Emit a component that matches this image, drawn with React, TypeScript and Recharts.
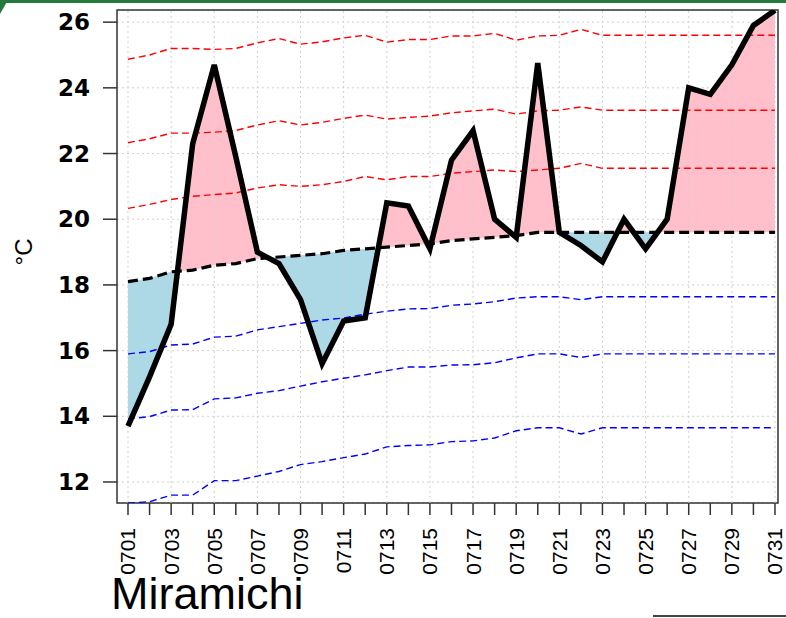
import React from 'react';
import {
  ComposedChart,
  Line,
  Area,
  XAxis,
  YAxis,
  CartesianGrid,
  ReferenceLine,
  ReferenceArea,
} from 'recharts';

const dayLabels = [
  '0701', '0702', '0703', '0704', '0705', '0706', '0707', '0708', '0709', '0710',
  '0711', '0712', '0713', '0714', '0715', '0716', '0717', '0718', '0719', '0720',
  '0721', '0722', '0723', '0724', '0725', '0726', '0727', '0728', '0729', '0730', '0731',
];

// daily observed temperature
const observed = [
  13.7, 15.2, 16.8, 22.3, 24.7, 21.9, 19.0, 18.65, 17.55, 15.6,
  16.9, 17.0, 20.5, 20.4, 19.1, 21.8, 22.7, 20.0, 19.45, 24.75,
  19.6, 19.2, 18.7, 20.0, 19.1, 20.0, 24.0, 23.8, 24.7, 25.9, 26.36,
];

// climatology mean
const climMean = [
  18.1, 18.2, 18.4, 18.45, 18.6, 18.65, 18.8, 18.85, 18.9, 18.95,
  19.05, 19.1, 19.15, 19.2, 19.25, 19.35, 19.4, 19.45, 19.5, 19.6,
  19.6, 19.6, 19.6, 19.6, 19.6, 19.6, 19.6, 19.6, 19.6, 19.6, 19.6,
];

const plus1 = [
  20.33, 20.45, 20.6, 20.7, 20.75, 20.8, 20.95, 21.05, 21.0, 21.05,
  21.15, 21.3, 21.2, 21.3, 21.3, 21.4, 21.45, 21.5, 21.45, 21.5,
  21.55, 21.7, 21.55, 21.55, 21.55, 21.55, 21.55, 21.55, 21.55, 21.55, 21.55,
];
const plus2 = [
  22.33, 22.45, 22.62, 22.62, 22.65, 22.7, 22.87, 23.0, 22.87, 22.95,
  23.07, 23.17, 23.05, 23.1, 23.14, 23.24, 23.3, 23.35, 23.2, 23.3,
  23.32, 23.42, 23.32, 23.32, 23.32, 23.32, 23.32, 23.32, 23.32, 23.32, 23.32,
];
const plus3 = [
  24.87, 25.0, 25.2, 25.2, 25.17, 25.2, 25.37, 25.5, 25.33, 25.4,
  25.52, 25.6, 25.39, 25.47, 25.47, 25.58, 25.58, 25.66, 25.45, 25.58,
  25.6, 25.78, 25.6, 25.6, 25.6, 25.6, 25.6, 25.6, 25.6, 25.6, 25.6,
];
const minus1 = [
  15.9, 15.97, 16.17, 16.2, 16.41, 16.44, 16.63, 16.73, 16.83, 16.93,
  16.99, 17.11, 17.2, 17.27, 17.28, 17.38, 17.42, 17.49, 17.6, 17.64,
  17.64, 17.55, 17.64, 17.64, 17.64, 17.64, 17.64, 17.64, 17.64, 17.64, 17.64,
];
const minus2 = [
  13.92, 13.99, 14.19, 14.2, 14.53, 14.56, 14.7, 14.78, 14.92, 15.05,
  15.16, 15.26, 15.39, 15.5, 15.5, 15.56, 15.57, 15.63, 15.78, 15.9,
  15.9, 15.79, 15.9, 15.9, 15.9, 15.9, 15.9, 15.9, 15.9, 15.9, 15.9,
];
const minus3 = [
  11.36, 11.4, 11.6, 11.6, 12.04, 12.04, 12.18, 12.32, 12.53, 12.62,
  12.74, 12.85, 13.07, 13.11, 13.13, 13.23, 13.25, 13.34, 13.56, 13.65,
  13.65, 13.46, 13.65, 13.65, 13.65, 13.65, 13.65, 13.65, 13.65, 13.65, 13.65,
];

const yTicks = [12, 14, 16, 18, 20, 22, 24, 26];
const X_MIN = 0.49;
const X_MAX = 31.14;
const Y_MIN = 11.36;
const Y_MAX = 26.37;

// rows for the chart; where observed crosses the mean an extra row is added
// so the pink / blue fills switch exactly at the crossing
const rows: any[] = [];
for (let i = 0; i < dayLabels.length; i++) {
  const o = observed[i];
  const m = climMean[i];
  rows.push({
    x: i + 1,
    obs: o,
    mean: m,
    p1: plus1[i],
    p2: plus2[i],
    p3: plus3[i],
    m1: minus1[i],
    m2: minus2[i],
    m3: minus3[i],
    warm: [m, Math.max(o, m)],
    cold: [Math.min(o, m), m],
  });
  if (i < dayLabels.length - 1) {
    const d0 = o - m;
    const d1 = observed[i + 1] - climMean[i + 1];
    if (d0 * d1 < 0) {
      const t = d0 / (d0 - d1);
      const v = o + t * (observed[i + 1] - o);
      rows.push({ x: i + 1 + t, obs: v, mean: v, warm: [v, v], cold: [v, v] });
    }
  }
}

const oddDays = dayLabels.map((_, i) => i + 1).filter((d) => d % 2 === 1);
const allDays = dayLabels.map((_, i) => i + 1);

function DayTick(props: any) {
  const { x, y, payload } = props;
  const d = payload.value;
  if (d % 2 === 0) return <g />;
  return (
    <text
      transform={`translate(${x + 7.5},${y + 11}) rotate(-90)`}
      textAnchor="end"
      fontFamily="'Liberation Sans', Arial, sans-serif"
      fontSize={21}
      fill="#000"
    >
      {dayLabels[d - 1]}
    </text>
  );
}

function TempTick(props: any) {
  const { x, y, payload } = props;
  return (
    <text
      x={x - 11}
      y={y + 8}
      textAnchor="end"
      fontFamily="'DejaVu Sans', sans-serif"
      fontWeight="bold"
      fontSize={23}
      fill="#000"
    >
      {payload.value}
    </text>
  );
}

const sigmaLine = (key: string, color: string) => (
  <Line
    key={key}
    type="linear"
    dataKey={key}
    stroke={color}
    strokeWidth={1.4}
    strokeDasharray="7 4"
    dot={false}
    connectNulls
    isAnimationActive={false}
  />
);

export default function App() {
  return (
    <div
      style={{
        position: 'absolute',
        left: 0,
        top: 0,
        width: 786,
        height: 618,
        background: '#fff',
        overflow: 'hidden',
      }}
    >
      <div style={{ position: 'absolute', left: 0, top: 0, width: 786, height: 3, background: '#237a3c' }} />
      <div
        style={{
          position: 'absolute',
          left: 0,
          top: 0,
          width: 8,
          height: 14,
          background: '#237a3c',
          clipPath: 'polygon(0 0, 100% 0, 0 100%)',
        }}
      />
      <ComposedChart
        width={786}
        height={618}
        data={rows}
        margin={{ top: 10, right: 8, bottom: 0, left: 0 }}
      >
        <CartesianGrid vertical={false} stroke="#d0d0d0" strokeDasharray="2 3" />
        <XAxis
          dataKey="x"
          type="number"
          domain={[X_MIN, X_MAX]}
          ticks={allDays}
          interval={0}
          allowDataOverflow
          height={115}
          tickSize={12}
          tickLine={{ stroke: '#333', strokeWidth: 1.5 }}
          axisLine={false}
          tick={<DayTick />}
        />
        <YAxis
          type="number"
          domain={[Y_MIN, Y_MAX]}
          ticks={yTicks}
          allowDataOverflow
          width={117}
          tickSize={14}
          tickLine={{ stroke: '#333', strokeWidth: 1.5 }}
          axisLine={false}
          tick={<TempTick />}
        />
        {oddDays.map((d) => (
          <ReferenceLine key={'g' + d} x={d} stroke="#d0d0d0" strokeDasharray="2 3" />
        ))}
        <Area
          type="linear"
          dataKey="warm"
          fill="#ffc0cb"
          fillOpacity={1}
          stroke="none"
          isAnimationActive={false}
        />
        <Area
          type="linear"
          dataKey="cold"
          fill="#add8e6"
          fillOpacity={1}
          stroke="none"
          isAnimationActive={false}
        />
        {sigmaLine('p3', '#ff0000')}
        {sigmaLine('p2', '#ff0000')}
        {sigmaLine('p1', '#ff0000')}
        {sigmaLine('m1', '#0000ff')}
        {sigmaLine('m2', '#0000ff')}
        {sigmaLine('m3', '#0000ff')}
        <Line
          type="linear"
          dataKey="mean"
          stroke="#000"
          strokeWidth={3.2}
          strokeDasharray="10 5"
          dot={false}
          isAnimationActive={false}
        />
        <Line
          type="linear"
          dataKey="obs"
          stroke="#000"
          strokeWidth={5.5}
          strokeLinejoin="miter"
          dot={false}
          isAnimationActive={false}
        />
        <ReferenceArea
          x1={X_MIN}
          x2={X_MAX}
          y1={Y_MIN}
          y2={Y_MAX}
          fill="none"
          fillOpacity={0}
          stroke="#333"
          strokeWidth={1.5}
          ifOverflow="visible"
        />
      </ComposedChart>
      <div
        style={{
          position: 'absolute',
          left: 24,
          top: 252,
          transform: 'translate(-50%, -50%) rotate(-90deg)',
          fontFamily: "'Liberation Sans', Arial, sans-serif",
          fontSize: 24,
          color: '#000',
          whiteSpace: 'nowrap',
        }}
      >
        °C
      </div>
      <div
        style={{
          position: 'absolute',
          left: 111,
          top: 571,
          fontFamily: "'Liberation Sans', Arial, sans-serif",
          fontSize: 45,
          lineHeight: '45px',
          color: '#000',
          whiteSpace: 'nowrap',
        }}
      >
        Miramichi
      </div>
      <div style={{ position: 'absolute', left: 653, top: 615, width: 133, height: 2, background: '#444' }} />
    </div>
  );
}
